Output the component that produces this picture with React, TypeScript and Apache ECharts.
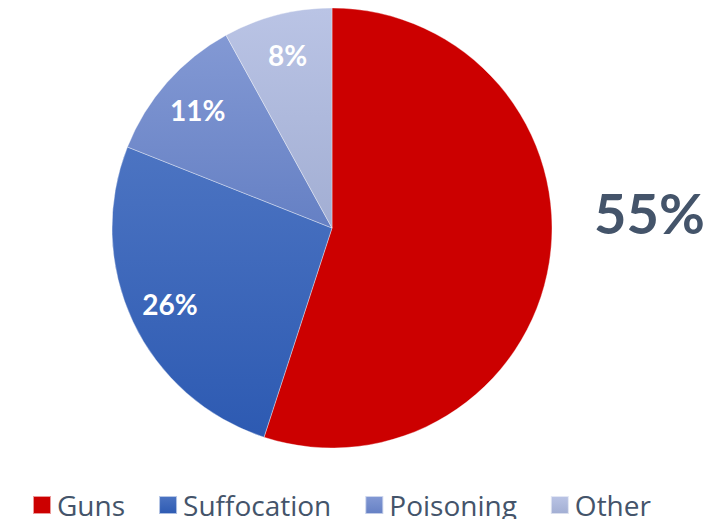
import React, { useEffect, useRef } from "react";
import * as echarts from "echarts";

const categories = ["Guns", "Suffocation", "Poisoning", "Other"];
const values = [55, 26, 11, 8];
const topColors = ["#CC0000", "#4C74C2", "#8399D4", "#BAC4E5"];
const bottomColors = ["#CC0000", "#2D5AB2", "#6580C4", "#A2AED3"];

export default function App() {
  const ref = useRef<HTMLDivElement>(null);
  useEffect(() => {
    if (!ref.current) return;
    const chart = echarts.init(ref.current, null, { renderer: "svg" });
    const fill = (i: number) =>
      new echarts.graphic.LinearGradient(0, 0, 0, 1, [
        { offset: 0, color: topColors[i] },
        { offset: 1, color: bottomColors[i] },
      ]);
    const R = 220;
    chart.setOption({
      animation: false,
      backgroundColor: "#ffffff",
      legend: {
        data: categories,
        left: 27,
        top: 486,
        icon: "rect",
        itemWidth: 18,
        itemHeight: 18,
        itemGap: 33,
        textStyle: {
          fontFamily: "Open Sans",
          fontSize: 28,
          color: "#44546A",
          padding: [0, 0, 0, 1],
        },
      },
      series: [
        {
          type: "pie",
          center: [332, 228],
          radius: [0, R],
          startAngle: 90,
          clockwise: true,
          silent: true,
          label: { show: false },
          labelLine: { show: false },
          itemStyle: { borderColor: "rgba(255,255,255,0.6)", borderWidth: 0.6 },
          data: categories.map((name, i) => ({
            name,
            value: values[i],
            itemStyle: { color: fill(i) },
          })),
        },
        {
          type: "pie",
          center: [332, 228],
          radius: [R * 0.6, R],
          startAngle: 90,
          clockwise: true,
          silent: true,
          itemStyle: { color: "rgba(0,0,0,0)" },
          label: {
            show: true,
            position: "inside",
            formatter: "{c}%",
            fontFamily: "Lato",
            fontWeight: "bold",
            fontSize: 28,
            color: "#ffffff",
          },
          labelLine: { show: false },
          labelLayout: (p: any) => (p.dataIndex === 0 ? { dy: -54 } : {}),
          data: categories.map((name, i) =>
            i === 0
              ? {
                  name,
                  value: values[i],
                  label: {
                    position: "outside",
                    fontSize: 56,
                    color: "#44546A",
                    overflow: "none",
                  },
                  labelLine: { show: false, length: 25, length2: 15 },
                }
              : { name, value: values[i] }
          ),
        },
      ],
    });
    return () => chart.dispose();
  }, []);
  return (
    <div
      ref={ref}
      style={{ position: "absolute", left: 0, top: 0, width: 722, height: 519 }}
    />
  );
}
